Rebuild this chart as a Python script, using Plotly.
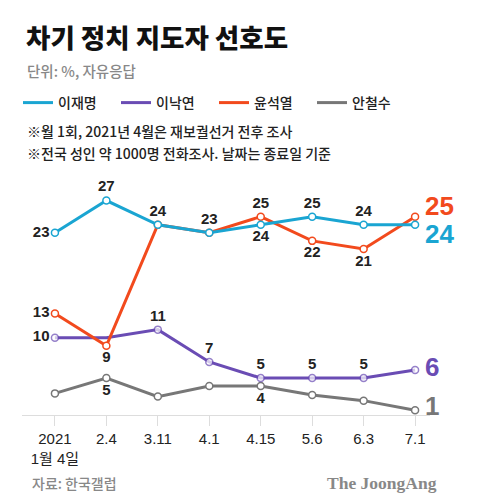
import plotly.graph_objects as go

# polling dates (categories) and preference values, %
dates = ['2021<br>1월 4일', '2.4', '3.11', '4.1', '4.15', '5.6', '6.3', '7.1']
lee_jm = [23, 27, 24, 23, 24, 25, 24, 24]
lee_ny = [10, 10, 11, 7, 5, 5, 5, 6]
yoon = [13, 9, 24, 23, 25, 22, 21, 25]
ahn = [3.1, 5, 2.7, 4, 4, 2.9, 2.2, 1]

# point labels ('' = no label)
lee_jm_txt = ['23', '27', '24', '23', '24', '25', '24', '']
lee_ny_txt = ['10', '', '11', '7', '5', '5', '5', '']
yoon_txt = ['13', '9', '', '', '25', '22', '21', '']
ahn_txt = ['', '5', '', '', '4', '', '', '']

lee_jm_pos = ['middle left', 'top center', 'top center', 'top center',
              'bottom center', 'top center', 'top center', 'top center']
lee_ny_pos = ['middle left'] + ['top center'] * 7
yoon_pos = ['middle left', 'bottom center', 'top center', 'top center',
            'top center', 'bottom center', 'bottom center', 'top center']
ahn_pos = ['top center', 'bottom center', 'top center', 'top center',
           'bottom center', 'top center', 'top center', 'top center']

names = ['이재명', '이낙연', '윤석열', '안철수']
BLUE, PURPLE, RED, GRAY = '#1aa5d2', '#6a4cb4', '#f24a1d', '#777777'

KR = 'Noto Sans CJK KR'
NUM = 'Liberation Sans, Noto Sans CJK KR'

fig = go.Figure()

# legend entries only
for nm, c in zip(names, [BLUE, PURPLE, RED, GRAY]):
    fig.add_trace(go.Scatter(x=[None], y=[None], mode='lines', name=nm,
                             line=dict(color=c, width=3)))


def add_line(y, txt, pos, color, name, msize=7):
    fig.add_trace(go.Scatter(
        x=dates, y=y, mode='lines+markers+text', name=name, showlegend=False,
        text=txt, textposition=pos,
        textfont=dict(family=NUM, size=15, color='#222222', weight='bold'),
        line=dict(color=color, width=3),
        marker=dict(size=msize, color='white', line=dict(color=color, width=1.5)),
        cliponaxis=False, hoverinfo='x+y'))


add_line(ahn, ahn_txt, ahn_pos, GRAY, '안철수')
add_line(lee_ny, lee_ny_txt, lee_ny_pos, PURPLE, '이낙연', [7, 0, 7, 7, 7, 7, 7, 7])
add_line(yoon, yoon_txt, yoon_pos, RED, '윤석열')
add_line(lee_jm, lee_jm_txt, lee_jm_pos, BLUE, '이재명')

# page body has an 8px margin: canvas = picture - 8
OFF = 8
W, H = 480 - OFF, 504 - OFF
# plot area in picture pixels: x 22..430, y 176..415
L, R, T, B = 22 - OFF, 430 - OFF, 176 - OFF, 415 - OFF


def px(x):
    return (x - OFF - L) / (R - L)


def py(y):
    return (B - (y - OFF)) / (B - T)


ann = [
    dict(text='차기 정치 지도자 선호도', x=px(24), y=py(36),
         font=dict(family=KR, size=26.5, color='#111111', weight=900)),
    dict(text='단위: %, 자유응답', x=px(25), y=py(70),
         font=dict(family=KR, size=14.5, color='#888888', weight=500)),
    dict(text='※월 1회, 2021년 4월은 재보궐선거 전후 조사', x=px(25), y=py(131),
         font=dict(family=KR, size=14, color='#222222', weight=500)),
    dict(text='※전국 성인 약 1000명 전화조사. 날짜는 종료일 기준', x=px(25), y=py(153),
         font=dict(family=KR, size=14, color='#222222', weight=500)),
    dict(text='자료: 한국갤럽', x=px(30), y=py(483),
         font=dict(family=KR, size=14, color='#888888', weight=500)),
]
for a in ann:
    a.update(xref='paper', yref='paper', xanchor='left', yanchor='middle',
             showarrow=False)
    fig.add_annotation(**a)

fig.add_annotation(text='<b>The JoongAng</b>', x=px(439), y=py(483),
                   xref='paper', yref='paper', xanchor='right', yanchor='middle',
                   showarrow=False,
                   font=dict(family='Liberation Serif', size=17.5, color='#888888'))

# end-of-line value labels
for y, c, ys in [(yoon, RED, 11), (lee_jm, BLUE, -9), (lee_ny, PURPLE, 3), (ahn, GRAY, 4)]:
    fig.add_annotation(text='<b>%g</b>' % y[-1], x=dates[-1], y=y[-1],
                       xanchor='left', yanchor='middle', xshift=4, yshift=ys,
                       showarrow=False, borderpad=0,
                       font=dict(family='Liberation Sans', size=26, color=c))

fig.update_layout(
    width=W, height=H,
    margin=dict(l=L, r=W - R, t=T, b=H - B, pad=0, autoexpand=False),
    paper_bgcolor='white', plot_bgcolor='white',
    showlegend=True,
    legend=dict(orientation='h', x=px(18), y=py(103), xanchor='left', yanchor='middle',
                entrywidth=53, entrywidthmode='pixels',
                font=dict(family=KR, size=14, color='#222222', weight=500),
                bgcolor='rgba(0,0,0,0)', tracegroupgap=0),
    xaxis=dict(type='category', range=[-0.64, 7.29], showgrid=False, zeroline=False,
               showline=True, linecolor='#dddddd', linewidth=1,
               ticks='outside', ticklen=10, tickcolor='#dddddd',
               tickfont=dict(family=NUM, size=15, color='#222222'),
               fixedrange=True),
    yaxis=dict(range=[0.42, 30.04], visible=False, fixedrange=True),
)

fig.write_html('out.html')
